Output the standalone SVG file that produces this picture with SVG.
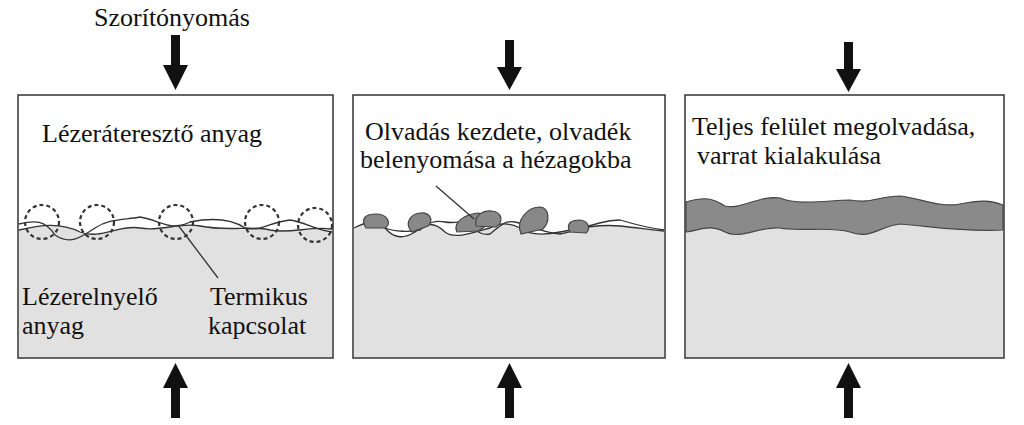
<svg xmlns="http://www.w3.org/2000/svg" width="1024" height="425" viewBox="0 0 1024 425">
<style>
.box{fill:#fff;stroke:#333;stroke-width:1.5}
.t{font-family:"Liberation Serif",serif;font-size:26px;fill:#111}
.ln{fill:none;stroke:#333;stroke-width:1.3}
.dot{fill:none;stroke:#333;stroke-width:2.2;stroke-dasharray:4,3}
.drop{fill:#888;stroke:#444;stroke-width:1.2}
</style>
<g id="panel1">
<rect class="box" x="18" y="95" width="315" height="263"/>
<path d="M19,230 C40,225 60,222 80,232 C100,240 120,224 140,228 C160,232 180,222 200,226 C230,232 250,225 270,230 C290,234 310,226 332,229 L332,357 L19,357 Z" fill="#e1e1e1"/>
<path class="ln" d="M19,230 C40,225 60,222 80,232 C100,240 120,224 140,228 C160,232 180,222 200,226 C230,232 250,225 270,230 C290,234 310,226 332,229"/>
<path class="ln" d="M19,224 C35,220 45,220 55,235 C70,245 80,238 95,228 C110,218 125,220 140,217 C160,220 170,232 190,222 C210,218 230,218 245,228 C260,232 270,222 290,220 C305,222 315,230 332,232"/>
<circle class="dot" cx="42" cy="222" r="17"/><circle class="dot" cx="97" cy="222" r="17"/>
<circle class="dot" cx="176" cy="222" r="17"/><circle class="dot" cx="262" cy="222" r="17"/><circle class="dot" cx="315" cy="225" r="17"/>
<path class="ln" d="M178,225 L218,278"/>
<text class="t" x="42" y="142">Lézeráteresztő anyag</text>
<text class="t" x="22" y="305">Lézerelnyelő</text>
<text class="t" x="22" y="334">anyag</text>
<text class="t" x="210" y="305">Termikus</text>
<text class="t" x="208" y="334">kapcsolat</text>
</g>
<g id="panel2">
<rect class="box" x="353" y="95" width="312" height="263"/>
<path d="M354,228 C365,222 375,220 385,228 C395,240 405,238 415,232 C425,222 435,222 445,232 C455,240 475,232 490,228 C500,222 510,223 520,228 C530,236 545,235 560,232 C580,228 600,224 620,226 C640,228 650,230 664,231 L664,357 L354,357 Z" fill="#e1e1e1"/>
<path class="ln" d="M354,228 C365,222 375,220 385,228 C395,240 405,238 415,232 C425,222 435,222 445,232 C455,240 475,232 490,228 C500,222 510,223 520,228 C530,236 545,235 560,232 C580,228 600,224 620,226 C640,228 650,230 664,231"/>
<path class="ln" d="M385,228 C395,232 410,232 420,230 C430,222 435,220 445,222 C455,224 465,220 470,222 C475,230 480,236 490,234 C500,226 505,220 515,222 C525,224 540,232 560,234 C580,230 600,220 620,220 C640,226 650,228 664,230"/>
<path class="drop" d="M366,228 C360,218 366,214 376,214 C388,214 392,224 385,228 Z"/>
<path class="drop" d="M412,232 C404,224 410,214 420,213 C430,212 434,220 428,226 Z"/>
<path class="drop" d="M457,232 C452,222 466,214 478,213 C490,214 490,226 478,231 Z"/>
<path class="drop" d="M476,226 C474,214 484,210 492,211 C502,212 504,222 496,227 Z"/>
<path class="drop" d="M521,234 C515,220 528,207 540,207 C550,208 550,222 543,229 Z"/>
<path class="drop" d="M570,232 C566,224 570,220 580,220 C590,221 590,230 586,233 Z"/>
<path class="ln" d="M436,186 L474,219"/>
<text class="t" x="365" y="140">Olvadás kezdete, olvadék</text>
<text class="t" x="360" y="168">belenyomása a hézagokba</text>
</g>
<g id="panel3">
<rect class="box" x="685" y="95" width="319" height="263"/>
<path d="M686,232 C700,230 710,224 725,232 C740,240 760,226 780,228 C800,232 830,226 850,232 C870,240 880,226 900,224 C930,226 960,232 1003,230 L1003,357 L686,357 Z" fill="#e1e1e1"/>
<path d="M686,202 C700,198 710,196 725,206 C740,210 760,195 780,198 C800,206 830,200 850,200 C870,204 880,196 900,196 C920,198 940,208 960,204 C980,200 990,200 1003,205 L1003,230 C960,232 930,226 900,224 C880,226 870,240 850,232 C830,226 800,232 780,228 C760,226 740,240 725,232 C710,224 700,230 686,232 Z" fill="#8a8a8a" stroke="#444" stroke-width="1.2"/>
<text class="t" x="692" y="135">Teljes felület megolvadása,</text>
<text class="t" x="697" y="164">varrat kialakulása</text>
</g>
<g id="connectors" fill="#111">
<path d="M171,35 h9 v30 h8 l-12.5,25 l-12.5,-25 h8 Z"/>
<path d="M171,418 h9 v-30 h8 l-12.5,-25 l-12.5,25 h8 Z"/>
<path d="M505,40 h9 v27 h8 l-12.5,23 l-12.5,-23 h8 Z"/>
<path d="M505,418 h9 v-30 h8 l-12.5,-25 l-12.5,25 h8 Z"/>
<path d="M844,42 h9 v27 h8 l-12.5,23 l-12.5,-23 h8 Z"/>
<path d="M844,418 h9 v-30 h8 l-12.5,-25 l-12.5,25 h8 Z"/>
</g>
<text class="t" x="94" y="26">Szorítónyomás</text>
</svg>
